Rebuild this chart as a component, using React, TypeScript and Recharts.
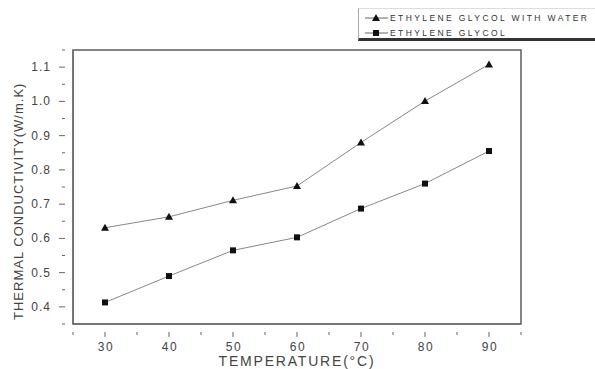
import React from 'react';
import { LineChart, Line, XAxis, YAxis } from 'recharts';

const temperatures = [30, 40, 50, 60, 70, 80, 90];
const withWater = [0.631, 0.663, 0.711, 0.753, 0.88, 1.001, 1.108];
const glycol = [0.413, 0.49, 0.565, 0.603, 0.687, 0.76, 0.855];

const xMajor = [30, 40, 50, 60, 70, 80, 90];
const xTicks = [25, 30, 35, 40, 45, 50, 55, 60, 65, 70, 75, 80, 85, 90, 95];
const yMajor = [0.4, 0.5, 0.6, 0.7, 0.8, 0.9, 1.0, 1.1];
const yTicks = [0.35, 0.4, 0.45, 0.5, 0.55, 0.6, 0.65, 0.7, 0.75, 0.8, 0.85, 0.9, 0.95, 1.0, 1.05, 1.1, 1.15];

const seriesNames = ['ETHYLENE GLYCOL WITH WATER', 'ETHYLENE GLYCOL'];

const data = temperatures.map((t, i) => ({ t, water: withWater[i], glycol: glycol[i] }));

const FONT = '"Liberation Sans", Arial, sans-serif';
const AXIS = '#666';
const TEXT = '#444';

// layout of the chart box
const W = 595;
const H = 369;
const margin = { top: 50, right: 74, bottom: 0, left: 0 };
const Y_AXIS_W = 73;
const X_AXIS_H = 45;

const isMajor = (v: number, list: number[]) => list.some(m => Math.abs(m - v) < 1e-6);

const XTick: React.FC<any> = ({ x, y, payload }) => {
    const major = isMajor(payload.value, xMajor);
    return (
        <g>
            <line x1={x} x2={x} y1={y} y2={y + (major ? 5 : 3)} stroke={AXIS} />
            {major && (
                <text x={x + 1} y={y + 19} textAnchor="middle" fill={TEXT} fontSize={12} letterSpacing={1.5} fontFamily={FONT}>
                    {payload.value}
                </text>
            )}
        </g>
    );
};

const YTick: React.FC<any> = ({ x, y, payload }) => {
    const major = isMajor(payload.value, yMajor);
    return (
        <g>
            <line x1={x} x2={x - (major ? 6 : 3)} y1={y} y2={y} stroke={AXIS} />
            {major && (
                <text x={x - 14} y={y + 4} textAnchor="end" fill={TEXT} fontSize={12} letterSpacing={1} fontFamily={FONT}>
                    {payload.value.toFixed(1)}
                </text>
            )}
        </g>
    );
};

const XLabel: React.FC<any> = ({ viewBox }) => (
    <text x={viewBox.x + viewBox.width / 2} y={366} textAnchor="middle" fill={TEXT} fontSize={14} letterSpacing={1.8} fontFamily={FONT}>
        TEMPERATURE(°C)
    </text>
);

// box around the plot area, from the same margins the chart uses
const Frame: React.FC = () => {
    const x = margin.left + Y_AXIS_W;
    const y = margin.top;
    const w = W - margin.right - x;
    const h = H - margin.bottom - X_AXIS_H - y;
    return (
        <svg width={W} height={H} style={{ position: 'absolute', top: 0, left: 0, pointerEvents: 'none' }}>
            <rect x={x} y={y} width={w} height={h} fill="none" stroke={AXIS} strokeWidth={1.6} />
        </svg>
    );
};

const Triangle: React.FC<any> = ({ cx, cy }) => (
    <path d={`M${cx},${cy - 4}L${cx + 4},${cy + 3}L${cx - 4},${cy + 3}Z`} fill="#111" />
);

const Square: React.FC<any> = ({ cx, cy }) => (
    <rect x={cx - 3} y={cy - 3} width={6} height={6} fill="#111" />
);

const LegendBox: React.FC = () => (
    <div style={{ position: 'absolute', top: 8, left: 358, width: 250, height: 28, borderLeft: '1px solid #aaa', borderTop: '1px solid #ddd', borderBottom: '3px solid #333', fontFamily: FONT, fontSize: 8.5, color: '#333', paddingTop: 1 }}>
        {seriesNames.map((name, i) => (
            <div key={name} style={{ display: 'flex', alignItems: 'center', height: 15 }}>
                <svg width={31} height={10}>
                    <line x1={6} x2={29} y1={5} y2={5} stroke="#666" />
                    {i === 0 ? <path d="M17,1L21,8L13,8Z" fill="#111" /> : <rect x={14} y={2} width={6} height={6} fill="#111" />}
                </svg>
                <span style={{ letterSpacing: 2.4, whiteSpace: 'nowrap' }}>{name}</span>
            </div>
        ))}
    </div>
);

export default function App() {
    return (
        <div style={{ position: 'absolute', top: 0, left: 0, width: W, height: H, background: '#fff', overflow: 'hidden' }}>
            <LineChart width={W} height={H} data={data} margin={margin}>
                <XAxis
                    dataKey="t"
                    type="number"
                    domain={[25, 95]}
                    ticks={xTicks}
                    interval={0}
                    height={X_AXIS_H}
                    stroke={AXIS}
                    tickLine={false}
                    tick={<XTick />}
                    label={<XLabel />}
                />
                <YAxis
                    type="number"
                    domain={[0.35, 1.15]}
                    ticks={yTicks}
                    interval={0}
                    width={Y_AXIS_W}
                    stroke={AXIS}
                    tickLine={false}
                    tick={<YTick />}
                    label={{ value: 'THERMAL CONDUCTIVITY(W/m.K)', angle: -90, position: 'insideLeft', offset: 18, dy: 133, fill: TEXT, fontSize: 13, letterSpacing: 1, fontFamily: FONT }}
                />
                <Line dataKey="water" stroke="#888" strokeWidth={1} dot={<Triangle />} isAnimationActive={false} />
                <Line dataKey="glycol" stroke="#888" strokeWidth={1} dot={<Square />} isAnimationActive={false} />
            </LineChart>
            <Frame />
            <LegendBox />
        </div>
    );
}
